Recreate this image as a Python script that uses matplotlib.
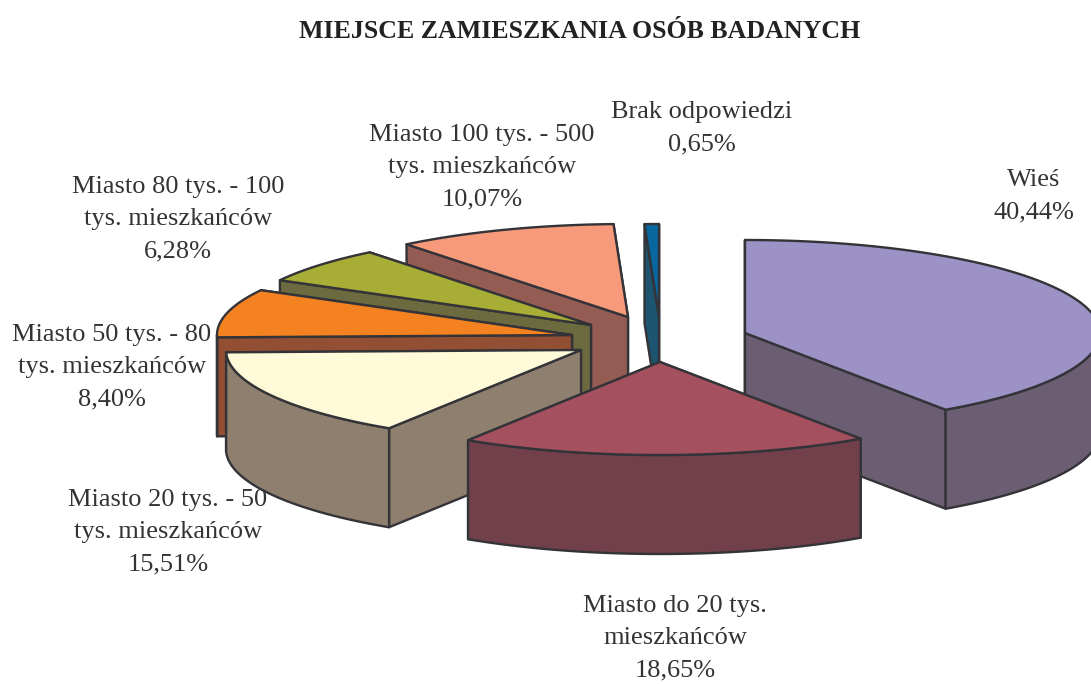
import numpy as np
import matplotlib
matplotlib.use("Agg")
import matplotlib.pyplot as plt
from matplotlib.patches import Polygon

#data, clockwise from 12 o'clock
labels = ["Wieś", "Miasto do 20 tys.\nmieszkańców", "Miasto 20 tys. - 50\ntys. mieszkańców",
          "Miasto 50 tys. - 80\ntys. mieszkańców", "Miasto 80 tys. - 100\ntys. mieszkańców",
          "Miasto 100 tys. - 500\ntys. mieszkańców", "Brak odpowiedzi"]
values = [40.44, 18.65, 15.51, 8.40, 6.28, 10.07, 0.65]
title = "MIEJSCE ZAMIESZKANIA OSÓB BADANYCH"

top_colors = ["#9C92C6", "#A5505F", "#FFFBD9", "#F58220", "#A8AD35", "#F7997B", "#06689F"]
side_colors = ["#6B5D72", "#71404A", "#8F7F6E", "#934F33", "#6C6B3F", "#955C53", "#1D5470"]
edge = "#333338"

#layout in pixels: where each exploded slice has its tip, and where its label goes
tips = [(745, 333), (660, 362), (581, 350), (572, 335), (591, 325), (628, 317), (659, 317)]
label_pos = [(1034, 196), (675, 638), (168, 532), (112, 367), (178, 219), (482, 167), (702, 128)]
draw_order = [6, 5, 4, 3, 2, 0, 1]
rx = 355
ry = 93
depth = 99

fig = plt.figure(figsize=(10.91, 6.84), dpi=100)
ax = fig.add_axes([0, 0, 1, 1])
ax.set_xlim(0, 1091)
ax.set_ylim(684, 0)
ax.axis("off")
plt.rcParams["font.family"] = ["Liberation Serif", "DejaVu Serif"]

def rim(tip, a1, a2):
    #points of the ellipse between two angles (degrees clockwise from top)
    n = max(2, int(abs(a2 - a1)) * 2)
    t = np.radians(np.linspace(a1, a2, n))
    return np.column_stack([tip[0] + rx * np.sin(t), tip[1] - ry * np.cos(t)])

def face(pts, color, z):
    ax.add_patch(Polygon(pts, closed=True, facecolor=color, edgecolor=edge, linewidth=1.7,
                         joinstyle="round", zorder=z))

ends = np.cumsum(values) / sum(values) * 360
starts = ends - np.array(values) / sum(values) * 360
down = np.array([0, depth])

z = 1
for i in draw_order:
    tip = np.array(tips[i], dtype=float)
    a1, a2 = starts[i], ends[i]
    #flat walls of the cut, the one lower on screen is in front so it goes last
    walls = sorted([rim(tip, a, a)[0] for a in (a1, a2)], key=lambda p: p[1])
    for p in walls:
        face([tip, p, p + down, tip + down], side_colors[i], z)
    #outer wall, only the part facing the viewer
    b1, b2 = max(a1, 90), min(a2, 270)
    if b2 > b1:
        arc = rim(tip, b1, b2)
        face(np.vstack([arc, arc[::-1] + down]), side_colors[i], z)
    face(np.vstack([[tip], rim(tip, a1, a2)]), top_colors[i], z)
    z += 1

for i in range(len(values)):
    pct = ("%.2f" % values[i]).replace(".", ",") + "%"
    ax.text(label_pos[i][0], label_pos[i][1], labels[i] + "\n" + pct, fontsize=19, ha="center", va="center",
            color="#333333", linespacing=1.61, zorder=20)

ax.text(580, 31, title, fontsize=18.6, fontweight="bold", ha="center", va="center", color="#222222", zorder=20)

fig.savefig("out.png", dpi=100)
